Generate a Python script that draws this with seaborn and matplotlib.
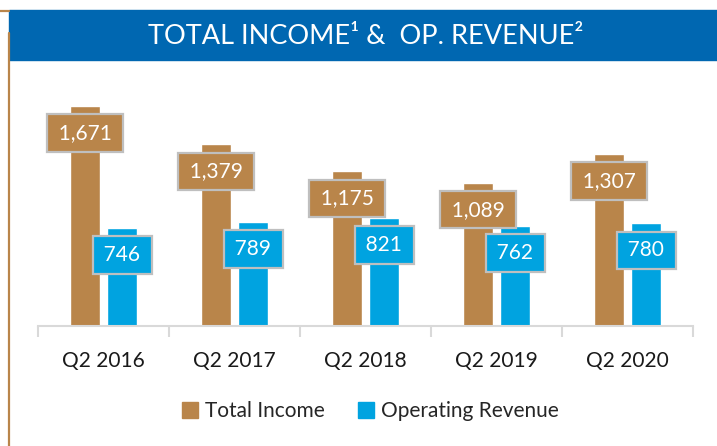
import matplotlib.pyplot as plt
import matplotlib.patches as mpatches
import matplotlib.lines as mlines
import pandas as pd
import seaborn as sns

quarters = ["Q2 2016", "Q2 2017", "Q2 2018", "Q2 2019", "Q2 2020"]
total_income = [1671, 1379, 1175, 1089, 1307]
op_revenue = [746, 789, 821, 762, 780]
series_names = ["Total Income", "Operating Revenue"]
title_text = "TOTAL INCOME\u00b9 &  OP. REVENUE\u00b2"

BROWN = "#B9854A"
BLUE = "#00A3E0"
BANNER = "#0067B1"

sns.set_theme(style="white")
plt.rcParams["font.family"] = ["Lato", "DejaVu Sans"]

df = pd.DataFrame(
    {
        "Quarter": quarters * 2,
        "Series": [series_names[0]] * len(quarters) + [series_names[1]] * len(quarters),
        "Value": total_income + op_revenue,
    }
)

W, H = 717, 446
fig = plt.figure(figsize=(W / 100, H / 100), dpi=100)
ax = fig.add_axes([38 / W, (H - 326) / H, (693 - 38) / W, 237 / H])

sns.barplot(
    data=df, x="Quarter", y="Value", hue="Series",
    palette=[BROWN, BLUE], width=0.57, gap=0.21,
    saturation=1, legend=False, ax=ax,
)
ax.set_ylim(0, 1800)
ax.set_xlim(-0.5, len(quarters) - 0.5)
ax.set_xlabel("")
ax.set_ylabel("")
ax.set_yticks([])
for side in ["top", "left", "right"]:
    ax.spines[side].set_visible(False)
ax.spines["bottom"].set_color("#D9D9D9")
ax.spines["bottom"].set_linewidth(1.5)
ax.set_xticks([i - 0.5 for i in range(len(quarters) + 1)], minor=True)
ax.tick_params(axis="x", which="minor", length=8, width=1.5, color="#D9D9D9", bottom=True)
ax.tick_params(axis="x", which="major", length=0, pad=18, labelsize=15, labelcolor="#1a1a1a")

# value labels in boxes
for patch in ax.patches:
    h = patch.get_height()
    if h <= 0:
        continue
    xc = patch.get_x() + patch.get_width() / 2
    ax.annotate(
        f"\u2009{int(round(h)):,}\u2009", (xc, h), xytext=(0, -19.5), textcoords="offset points",
        ha="center", va="center", fontsize=15, color="white",
        bbox=dict(boxstyle="square,pad=0.42", fc=patch.get_facecolor(), ec="#BFBFBF", lw=1.6),
    )

# banner and frame lines
fig.patches.append(mpatches.Rectangle((9 / W, (H - 60) / H), 1 - 9 / W, 50 / H,
                                      transform=fig.transFigure, color=BANNER, zorder=0))
fig.lines.append(mlines.Line2D([8.5 / W, 8.5 / W], [0, (H - 33) / H],
                               transform=fig.transFigure, color=BROWN, lw=1.6))
fig.lines.append(mlines.Line2D([0, 9 / W], [(H - 10.5) / H, (H - 10.5) / H],
                               transform=fig.transFigure, color=BROWN, lw=1.6))
fig.text(366 / W, 1 - 36 / H, title_text, ha="center", va="center",
         color="white", fontsize=19.5)

handles = [mpatches.Patch(color=BROWN), mpatches.Patch(color=BLUE)]
fig.legend(handles, series_names, loc="center", bbox_to_anchor=(370 / W, 1 - 411 / H),
           ncol=2, frameon=False, fontsize=15, handlelength=0.8, handleheight=0.8,
           handletextpad=0.3, columnspacing=1.6)

fig.savefig("out.png", dpi=100)
